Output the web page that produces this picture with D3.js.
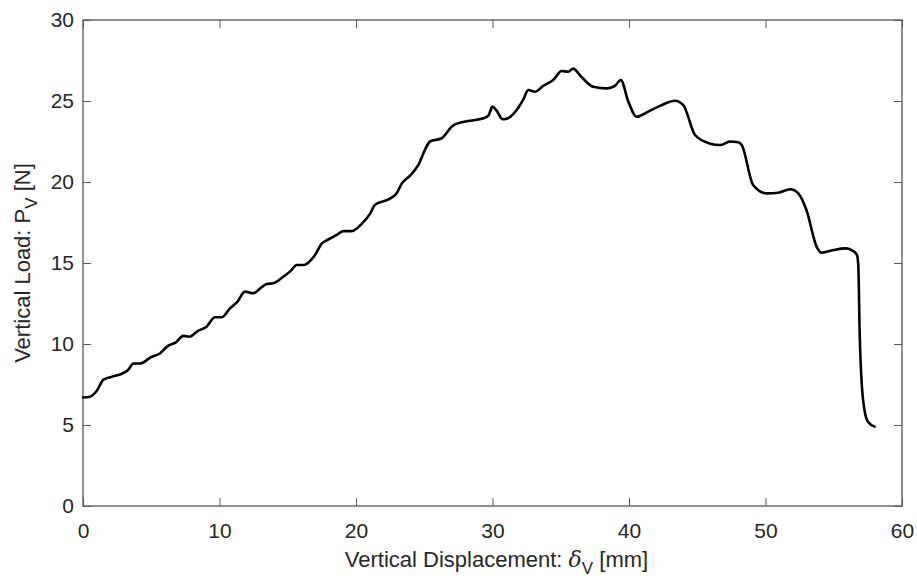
<!DOCTYPE html>
<html>
<head>
<meta charset="utf-8">
<script src="https://cdn.jsdelivr.net/npm/d3@7"></script>
<style>
  html, body { margin: 0; padding: 0; background: #fff; }
  text { font-family: "Liberation Sans", Arial, Helvetica, sans-serif; fill: #262626; }
</style>
</head>
<body>
<svg id="chart" width="917" height="579"></svg>
<script>
// Load–displacement record (vertical displacement in mm, vertical load in N)
const displacement = [
  0, 0.5, 1.0, 1.5, 2.0, 2.8, 3.3, 3.7, 4.2, 5.0, 5.6, 6.25, 6.8, 7.35, 7.8, 8.4, 9.05, 9.67, 10.15,
  10.77, 11.3, 11.87, 12.48, 13.0, 13.46, 13.94, 14.67, 15.2, 15.66, 16.14, 17.0, 17.49, 17.85,
  18.3, 18.7, 19.07, 19.7, 20.4, 21.0, 21.4, 22.37, 22.98, 23.35, 23.96, 24.57, 25.05, 25.42,
  26.28, 27.13, 28.35, 29.33, 29.7, 30.0, 30.3, 30.75, 31.04, 31.77, 32.26, 32.62, 33.1, 33.72,
  34.45, 35.07, 35.55, 35.9, 36.5, 37.38, 38.36, 38.97, 39.4, 39.95, 40.56, 41.3, 42.27, 43.37,
  43.98, 44.84, 45.9, 46.67, 47.4, 48.0, 48.26, 49.1, 50.09, 50.94, 51.8, 52.4, 53.0, 53.75,
  54.1, 54.97, 55.9, 56.4, 56.7, 56.8, 56.9, 57.15, 57.5, 58.0
];
const load = [
  6.7, 6.75, 7.1, 7.8, 7.95, 8.15, 8.4, 8.8, 8.8, 9.2, 9.4, 9.9, 10.1, 10.5, 10.45, 10.8, 11.07, 11.65, 11.65,
  12.2, 12.6, 13.23, 13.13, 13.45, 13.7, 13.75, 14.15, 14.5, 14.88, 14.88, 15.5, 16.2, 16.4,
  16.6, 16.8, 16.97, 16.97, 17.4, 18.0, 18.6, 18.93, 19.3, 19.9, 20.4, 21.05, 21.98, 22.5,
  22.7, 23.5, 23.78, 23.93, 24.1, 24.65, 24.4, 23.87, 23.9, 24.44, 25.1, 25.68, 25.57, 25.94,
  26.3, 26.85, 26.81, 27.0, 26.5, 25.88, 25.78, 25.94, 26.3, 24.96, 24.03, 24.3, 24.7, 25.02,
  24.75, 22.9, 22.38, 22.28, 22.5, 22.45, 22.28, 19.81, 19.3, 19.34, 19.55, 19.3, 18.27, 16.0,
  15.64, 15.8, 15.9, 15.75, 15.5, 14.8, 10.66, 6.54, 5.2, 4.9
];
const xTicks = [0, 10, 20, 30, 40, 50, 60];
const yTicks = [0, 5, 10, 15, 20, 25, 30];

const width = 917, height = 579;
const margin = { top: 20, right: 15, bottom: 73, left: 83 };
const innerW = width - margin.left - margin.right;
const innerH = height - margin.top - margin.bottom;

const svg = d3.select("#chart");
const g = svg.append("g").attr("transform", `translate(${margin.left},${margin.top})`);

const x = d3.scaleLinear().domain([0, 60]).range([0, innerW]);
const y = d3.scaleLinear().domain([0, 30]).range([innerH, 0]);

const axisColor = "#555";
const tickLen = 8;

function styleAxis(sel, showLabels) {
  sel.select(".domain").remove();
  sel.selectAll(".tick line").attr("stroke", axisColor).attr("stroke-width", 1);
  sel.selectAll(".tick text")
    .style("font-size", "21px")
    .attr("fill", "#262626")
    .style("display", showLabels ? null : "none");
}

// Bottom and left axes with inward ticks
g.append("g").attr("transform", `translate(0,${innerH})`)
  .call(d3.axisBottom(x).tickValues(xTicks).tickSize(-tickLen).tickPadding(17).tickFormat(d3.format("d")))
  .call(s => styleAxis(s, true));
g.append("g")
  .call(d3.axisLeft(y).tickValues(yTicks).tickSize(-tickLen).tickPadding(9).tickFormat(d3.format("d")))
  .call(s => styleAxis(s, true));
// Top and right axes (box) with inward ticks, no labels
g.append("g")
  .call(d3.axisTop(x).tickValues(xTicks).tickSize(-tickLen).tickFormat(""))
  .call(s => styleAxis(s, false));
g.append("g").attr("transform", `translate(${innerW},0)`)
  .call(d3.axisRight(y).tickValues(yTicks).tickSize(-tickLen).tickFormat(""))
  .call(s => styleAxis(s, false));

// Box outline
g.append("rect")
  .attr("x", 0).attr("y", 0).attr("width", innerW).attr("height", innerH)
  .attr("fill", "none").attr("stroke", axisColor).attr("stroke-width", 1.3);

// Load curve
const pts = displacement.map((d, i) => [d, load[i]]);
const line = d3.line().x(d => x(d[0])).y(d => y(d[1])).curve(d3.curveMonotoneX);
g.append("path")
  .datum(pts)
  .attr("d", line)
  .attr("fill", "none")
  .attr("stroke", "#000")
  .attr("stroke-width", 2.6)
  .attr("stroke-linejoin", "round")
  .attr("stroke-linecap", "round");

// Axis titles
const xt = svg.append("text")
  .attr("x", margin.left + innerW / 2 + 4)
  .attr("y", 567)
  .attr("text-anchor", "middle")
  .style("font-size", "22px");
xt.append("tspan").text("Vertical Displacement: ");
xt.append("tspan").style("font-family", "'DejaVu Serif', 'Liberation Serif', serif").style("font-style", "italic").text("δ");
xt.append("tspan").attr("dy", 7).style("font-size", "17px").text("V");
xt.append("tspan").attr("dy", -7).text(" [mm]");

const yt = svg.append("text")
  .attr("transform", `translate(30,${margin.top + innerH / 2}) rotate(-90)`)
  .attr("text-anchor", "middle")
  .style("font-size", "22px");
yt.append("tspan").text("Vertical Load: P");
yt.append("tspan").attr("dy", 7).style("font-size", "17px").text("V");
yt.append("tspan").attr("dy", -7).text(" [N]");
</script>
</body>
</html>
